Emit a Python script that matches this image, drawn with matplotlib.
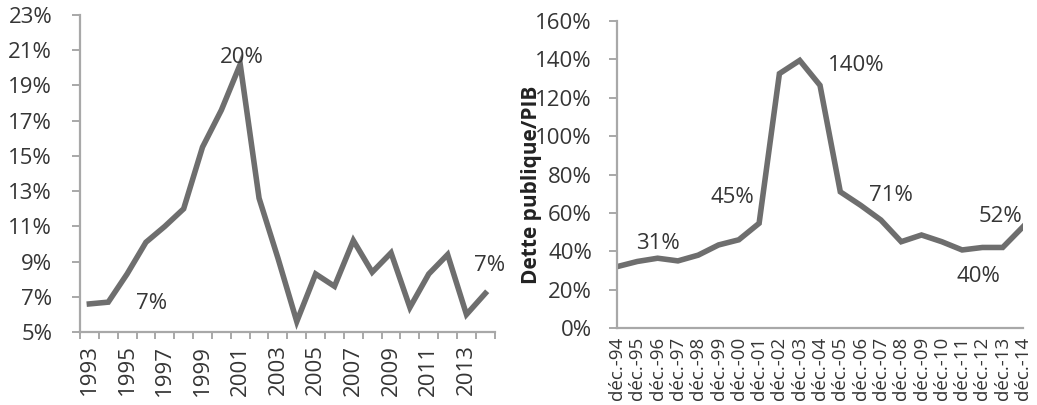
import numpy as np
import matplotlib.pyplot as plt
from matplotlib.ticker import FuncFormatter

plt.rcParams['font.family'] = ['Open Sans', 'DejaVu Sans']

# taux annuel (gauche)
years = list(range(1993, 2015))
rate = [6.6, 6.7, 8.3, 10.1, 11.0, 12.0, 15.5, 17.6, 20.2, 12.6, 9.2,
        5.6, 8.3, 7.6, 10.2, 8.4, 9.5, 6.4, 8.3, 9.4, 6.0, 7.2]

# dette publique / PIB (droite)
debt_labels = ["déc.-%02d" % (y % 100) for y in range(1994, 2015)]
debt = [32, 34.7, 36.4, 35, 38, 43.3, 46, 54.6, 132.6, 139.5, 126.5,
        71, 64, 56.3, 45, 48.5, 45, 40.7, 42, 42, 52.8]

line_col = '#6e6e6e'
text_col = '#353535'
axis_col = '#a8a8a8'
fs = 16

fig = plt.figure(figsize=(10.37, 4.05), dpi=100)
ax1 = fig.add_axes([0.0771, 0.180, 0.400, 0.783])
ax2 = fig.add_axes([0.595, 0.190, 0.3915, 0.758])

for ax in (ax1, ax2):
    for s in ('top', 'right'):
        ax.spines[s].set_visible(False)
    for s in ('left', 'bottom'):
        ax.spines[s].set_color(axis_col)
        ax.spines[s].set_linewidth(1.6)
    ax.tick_params(colors=text_col, labelsize=fs, width=1.4, length=6)
    ax.tick_params(axis='both', color=axis_col)

ax1.tick_params(axis='y', pad=14)
ax2.tick_params(axis='y', pad=12)

pct = FuncFormatter(lambda v, p: "%d%%" % round(v))

# --- gauche
x1 = np.arange(len(years))
ax1.plot(x1, rate, color=line_col, lw=4, solid_joinstyle='miter')
ax1.set_xlim(-0.5, len(years) - 0.5)
ax1.set_ylim(5, 23)
ax1.set_yticks(range(5, 24, 2))
ax1.yaxis.set_major_formatter(pct)
ax1.set_xticks(x1[::2])
ax1.set_xticklabels([str(y) for y in years[::2]], rotation=90)
ax1.tick_params(axis='x', length=0, pad=9)
ax1.set_xticks(np.arange(len(years) + 1) - 0.5, minor=True)
ax1.tick_params(axis='x', which='minor', length=5, width=1.4, color=axis_col)

ax1.text(x1[8] + 0.1, 20.6, "20%", fontsize=fs, color=text_col, ha='center', va='center')
ax1.text(3.3, 6.6, "7%", fontsize=fs, color=text_col, ha='center', va='center')
ax1.text(21.2, 8.8, "7%", fontsize=fs, color=text_col, ha='center', va='center')

# --- droite
x2 = np.arange(len(debt))
ax2.plot(x2, debt, color=line_col, lw=4, solid_joinstyle='miter')
ax2.set_xlim(0, len(debt) - 1)
ax2.set_ylim(0, 160)
ax2.set_yticks(range(0, 161, 20))
ax2.yaxis.set_major_formatter(pct)
ax2.set_xticks(x2)
ax2.set_xticklabels(debt_labels, rotation=90, fontsize=13.5)
ax2.tick_params(axis='x', length=0, pad=6)
ax2.set_ylabel("Dette publique/PIB", fontsize=15, fontweight='bold', color='#222222')
ax2.yaxis.set_label_coords(-0.185, 0.465)

ann = [(2, 31, "31%", 2.0, 44), (6, 45, "45%", 5.7, 68), (9, 140, "140%", 11.8, 137),
       (13, 71, "71%", 13.5, 69), (17, 40, "40%", 17.8, 27), (20, 52, "52%", 18.9, 58)]
for _, _, txt, tx, ty in ann:
    ax2.text(tx, ty, txt, fontsize=fs, color=text_col, ha='center', va='center')

fig.savefig('out.png', dpi=100)
